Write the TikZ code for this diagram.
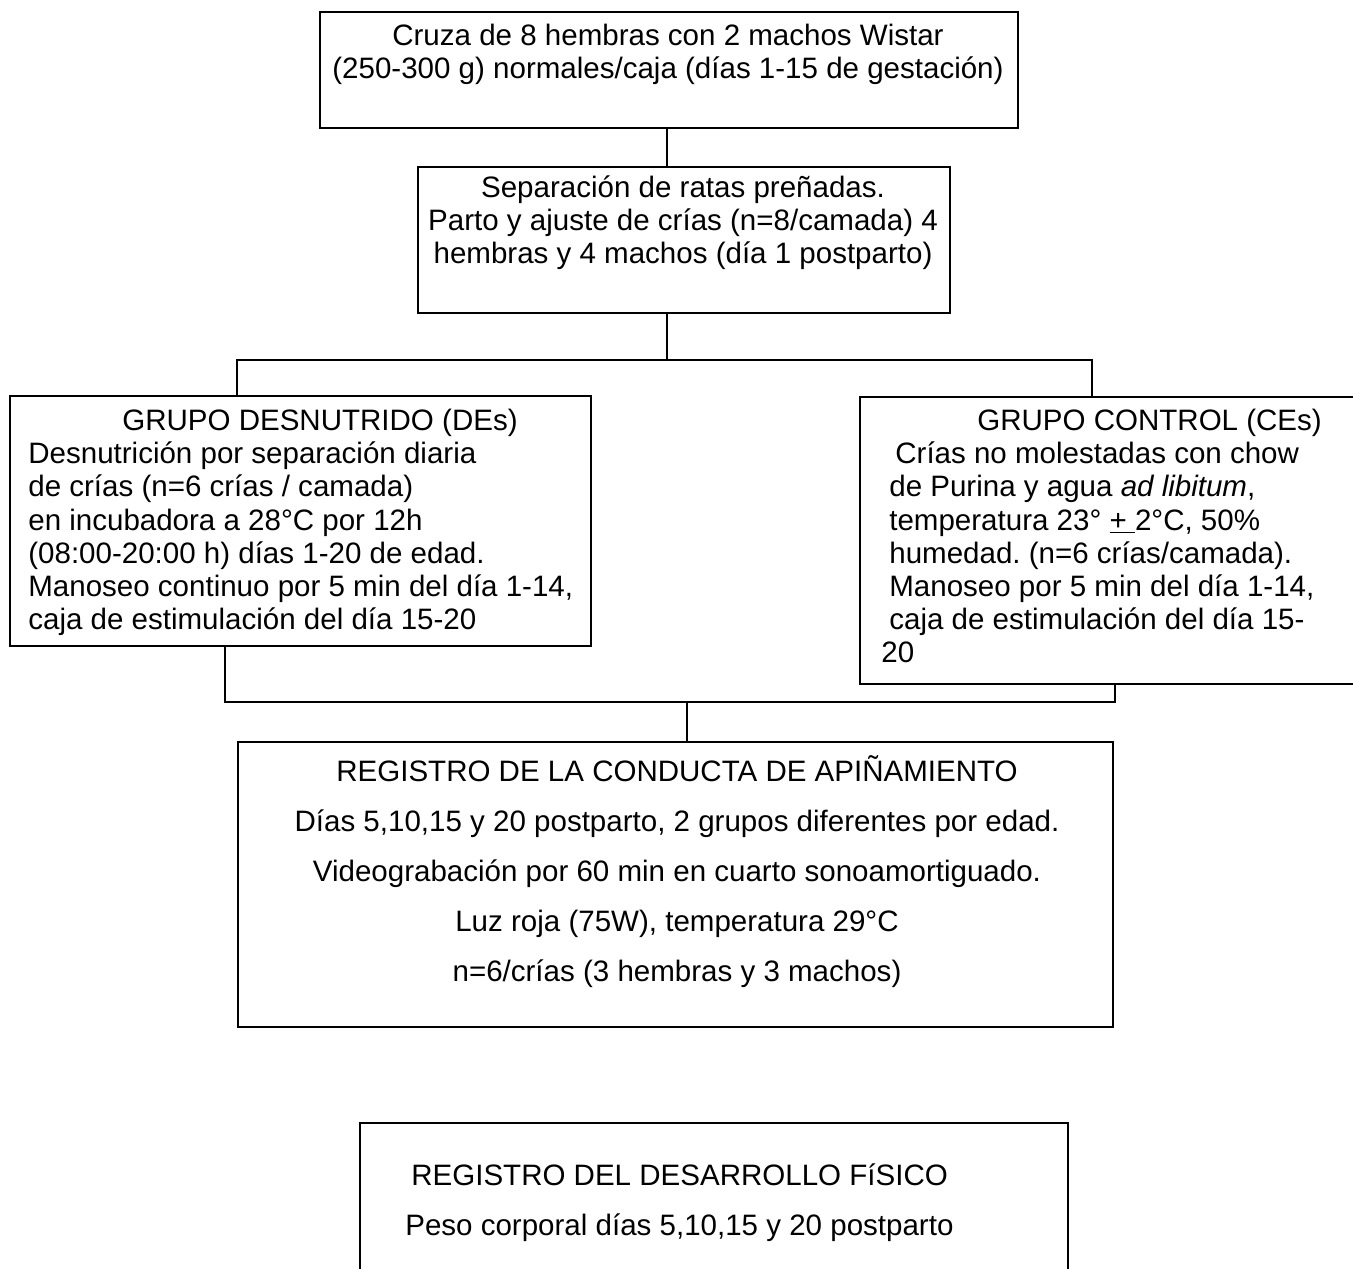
\documentclass[tikz,border=0pt]{standalone}
\usepackage{fontspec}
\setmainfont{Liberation Sans}
\usetikzlibrary{positioning}
\frenchspacing

\begin{document}
\begin{tikzpicture}[
    % estilos de cajas, textos y conectores
    stepbox/.style={draw=black, line width=1.2pt, minimum width=#1, inner sep=0pt},
    boxtext/.style={inner sep=0pt, font=\fontsize{16.8}{18.8}\selectfont},
    widetext/.style={inner sep=0pt, font=\fontsize{16.8}{28.45}\selectfont},
    line/.style={-, line width=1pt, draw=black}
]

% marco de la figura (recorta la caja inferior como en el original)
\clip (0,0) rectangle (27.06,-25.36);

% ==========================================
% 1. Cajas (marcos) en coordenadas fijas
% ==========================================
\node[stepbox=13.96cm, minimum height=2.32cm] (cruza)    at (13.38,-1.40)  {};
\node[stepbox=10.64cm, minimum height=2.92cm] (separa)   at (13.68,-4.80)  {};
\node[stepbox=11.62cm, minimum height=5.00cm] (desnut)   at (6.01,-10.42)  {};
\node[stepbox=10.10cm, minimum height=5.74cm] (control)  at (22.25,-10.81) {};
\node[stepbox=17.50cm, minimum height=5.70cm] (registro) at (13.51,-17.69) {};
\node[stepbox=14.16cm, minimum height=3.54cm] (fisico)   at (14.28,-24.23) {};

% ==========================================
% 2. Textos dentro de las cajas
% ==========================================
\node[boxtext, align=center, anchor=north] (t_cruza) at (13.36,-0.448)
    {\strut Cruza de 8 hembras con 2 machos Wistar\\
     (250-300 g) normales/caja (días 1-15 de gestación)};

\node[boxtext, align=center, anchor=north] (t_separa) at (13.66,-3.488)
    {\strut Separación de ratas preñadas.\\
     Parto y ajuste de crías (n=8/camada) 4\\
     hembras y 4 machos (día 1 postparto)};

\node[boxtext, align=left, anchor=north west] (t_desnut) at (0.56,-8.148)
    {\strut\hspace*{1.88cm}GRUPO DESNUTRIDO (DEs)\\
     Desnutrición por separación diaria\\
     de crías (n=6 crías / camada)\\
     en incubadora a 28°C por 12h\\
     (08:00-20:00 h) días 1-20 de edad.\\
     Manoseo continuo por 5 min del día 1-14,\\
     caja de estimulación del día 15-20};

\node[boxtext, align=left, anchor=north west] (t_control) at (17.78,-8.148)
    {\strut\hspace*{1.76cm}GRUPO CONTROL (CEs)\\
     \hspace*{0.12cm}Crías no molestadas con chow\\
     de Purina y agua \textit{ad libitum},\\
     temperatura 23° \underline{+ }2°C, 50\%\\
     humedad. (n=6 crías/camada).\\
     Manoseo por 5 min del día 1-14,\\
     caja de estimulación del día 15-\\
     \hspace*{-0.16cm}20};

\node[widetext, align=center, anchor=north] (t_registro) at (13.54,-14.93)
    {\strut REGISTRO DE LA CONDUCTA DE APIÑAMIENTO\\
     Días 5,10,15 y 20 postparto, 2 grupos diferentes por edad.\\
     Videograbación por 60 min en cuarto sonoamortiguado.\\
     Luz roja (75W), temperatura 29°C\\
     n=6/crías (3 hembras y 3 machos)};

\node[widetext, align=left, anchor=north west] (t_fisico) at (8.10,-23.01)
    {\strut\hspace*{0.12cm}REGISTRO DEL DESARROLLO FíSICO\\
     Peso corporal días 5,10,15 y 20 postparto};

% ==========================================
% 3. Conectores (líneas en ángulo recto)
% ==========================================
\coordinate (split) at (13.34,-7.20);
\coordinate (barL)  at (4.74,-7.20);
\coordinate (barR)  at (21.84,-7.20);
\coordinate (merge) at (13.74,-14.04);
\coordinate (joinL) at (4.50,-14.04);
\coordinate (joinR) at (22.30,-14.04);

% de la cruza a la separación
\draw[line] (cruza.south -| split) -- (split |- separa.north);

% reparto en los dos grupos
\draw[line] (split |- separa.south) -- (split);
\draw[line] (barL |- desnut.north) -- (barL) -- (barR) -- (barR |- control.north);

% unión de los dos grupos hacia el registro
\draw[line] (joinL |- desnut.south) -- (joinL) -- (joinR) -- (joinR |- control.south);
\draw[line] (merge) -- (merge |- registro.north);

\end{tikzpicture}
\end{document}
